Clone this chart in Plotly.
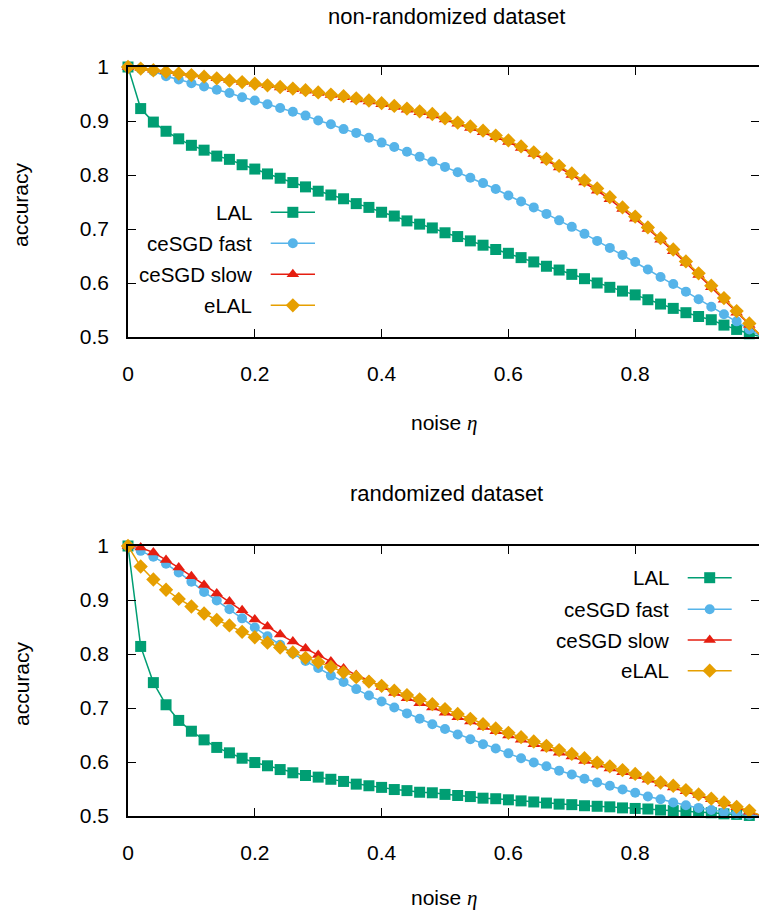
import plotly.graph_objects as go

# noise levels (x) shared by every curve
noise = [0.00, 0.02, 0.04, 0.06, 0.08, 0.10, 0.12, 0.14, 0.16, 0.18,
         0.20, 0.22, 0.24, 0.26, 0.28, 0.30, 0.32, 0.34, 0.36, 0.38,
         0.40, 0.42, 0.44, 0.46, 0.48, 0.50, 0.52, 0.54, 0.56, 0.58,
         0.60, 0.62, 0.64, 0.66, 0.68, 0.70, 0.72, 0.74, 0.76, 0.78,
         0.80, 0.82, 0.84, 0.86, 0.88, 0.90, 0.92, 0.94, 0.96, 0.98,
         1.00]

# ---- non-randomized dataset ----
nr_lal = [1.000, 0.923, 0.898, 0.881, 0.867, 0.855, 0.846, 0.835, 0.829, 0.819,
          0.811, 0.802, 0.794, 0.786, 0.778, 0.770, 0.763, 0.756, 0.747, 0.740,
          0.731, 0.724, 0.715, 0.709, 0.702, 0.693, 0.686, 0.678, 0.670, 0.662,
          0.655, 0.647, 0.639, 0.631, 0.624, 0.616, 0.608, 0.600, 0.592, 0.585,
          0.578, 0.569, 0.561, 0.553, 0.545, 0.538, 0.532, 0.522, 0.514, 0.506,
          0.500]
nr_fast = [1.000, 0.997, 0.992, 0.983, 0.977, 0.970, 0.964, 0.958, 0.952, 0.944,
           0.938, 0.931, 0.924, 0.917, 0.910, 0.901, 0.894, 0.885, 0.878, 0.869,
           0.860, 0.852, 0.843, 0.834, 0.825, 0.815, 0.805, 0.795, 0.785, 0.774,
           0.762, 0.751, 0.740, 0.728, 0.716, 0.704, 0.691, 0.678, 0.665, 0.652,
           0.639, 0.625, 0.611, 0.598, 0.584, 0.570, 0.556, 0.542, 0.529, 0.514,
           0.500]
nr_slow = [1.000, 0.998, 0.995, 0.992, 0.989, 0.986, 0.983, 0.979, 0.976, 0.972,
           0.969, 0.966, 0.962, 0.959, 0.956, 0.952, 0.948, 0.944, 0.940, 0.936,
           0.931, 0.926, 0.921, 0.916, 0.910, 0.903, 0.895, 0.887, 0.879, 0.870,
           0.861, 0.850, 0.839, 0.827, 0.814, 0.800, 0.786, 0.771, 0.755, 0.737,
           0.719, 0.700, 0.680, 0.659, 0.637, 0.615, 0.592, 0.569, 0.545, 0.522,
           0.500]
nr_elal = [1.000, 0.997, 0.994, 0.991, 0.988, 0.985, 0.982, 0.979, 0.975, 0.972,
           0.969, 0.966, 0.963, 0.960, 0.957, 0.953, 0.949, 0.946, 0.942, 0.938,
           0.933, 0.928, 0.923, 0.918, 0.913, 0.905, 0.897, 0.890, 0.882, 0.873,
           0.864, 0.853, 0.842, 0.830, 0.817, 0.803, 0.790, 0.775, 0.759, 0.740,
           0.723, 0.703, 0.683, 0.662, 0.640, 0.618, 0.595, 0.572, 0.548, 0.525,
           0.500]

# ---- randomized dataset ----
r_lal = [1.000, 0.814, 0.747, 0.706, 0.677, 0.657, 0.641, 0.627, 0.617, 0.607,
         0.599, 0.593, 0.586, 0.580, 0.575, 0.572, 0.568, 0.564, 0.559, 0.556,
         0.553, 0.549, 0.547, 0.544, 0.543, 0.540, 0.538, 0.536, 0.533, 0.532,
         0.530, 0.528, 0.526, 0.524, 0.522, 0.521, 0.519, 0.518, 0.517, 0.515,
         0.514, 0.513, 0.511, 0.510, 0.509, 0.507, 0.506, 0.504, 0.503, 0.501,
         0.500]
r_fast = [1.000, 0.991, 0.980, 0.967, 0.951, 0.934, 0.915, 0.899, 0.883, 0.866,
          0.849, 0.833, 0.817, 0.801, 0.787, 0.774, 0.760, 0.748, 0.735, 0.723,
          0.712, 0.701, 0.690, 0.680, 0.670, 0.661, 0.651, 0.642, 0.633, 0.625,
          0.616, 0.607, 0.599, 0.592, 0.584, 0.577, 0.569, 0.562, 0.556, 0.549,
          0.543, 0.536, 0.531, 0.525, 0.520, 0.515, 0.511, 0.507, 0.504, 0.502,
          0.500]
r_slow = [1.000, 0.997, 0.988, 0.974, 0.960, 0.944, 0.928, 0.912, 0.897, 0.881,
          0.864, 0.851, 0.836, 0.823, 0.810, 0.798, 0.786, 0.773, 0.761, 0.751,
          0.739, 0.728, 0.718, 0.709, 0.701, 0.691, 0.683, 0.675, 0.665, 0.657,
          0.649, 0.641, 0.633, 0.625, 0.617, 0.610, 0.602, 0.595, 0.588, 0.581,
          0.574, 0.567, 0.560, 0.553, 0.546, 0.539, 0.531, 0.523, 0.516, 0.508,
          0.500]
r_elal = [1.000, 0.962, 0.938, 0.919, 0.902, 0.888, 0.875, 0.863, 0.853, 0.841,
          0.831, 0.821, 0.812, 0.803, 0.793, 0.785, 0.776, 0.766, 0.757, 0.749,
          0.741, 0.732, 0.724, 0.716, 0.707, 0.698, 0.689, 0.680, 0.670, 0.662,
          0.654, 0.646, 0.638, 0.630, 0.622, 0.615, 0.607, 0.599, 0.592, 0.585,
          0.578, 0.570, 0.562, 0.556, 0.548, 0.540, 0.532, 0.525, 0.517, 0.510,
          0.500]

series_names = ["LAL", "ceSGD fast", "ceSGD slow", "eLAL"]
x_ticks = [0, 0.2, 0.4, 0.6, 0.8]
x_ticktext = ["0", "0.2", "0.4", "0.6", "0.8"]
y_ticks = [0.5, 0.6, 0.7, 0.8, 0.9, 1.0]
y_ticktext = ["0.5", "0.6", "0.7", "0.8", "0.9", "1"]
panel_titles = ["non-randomized dataset", "randomized dataset"]
x_title = "noise <span style='font-family:Liberation Serif;font-style:italic'>η</span>"
y_title = "accuracy"

# gnuplot-like styles per series
colors = ["#009e73", "#56b4e9", "#e51e10", "#e69f00"]
symbols = ["square", "circle", "triangle-up", "diamond"]
sizes = [11, 10, 11, 11]

FONT = "Liberation Sans, Arial, Helvetica, sans-serif"
FS_TICK = 21
FS_KEY = 20.5
FS_TITLE = 22
FS_LABEL = 21
W, H = 759, 912
ML = 128


def fx(px):
    """pixel column -> paper x"""
    return (px - ML) / (W - ML)


def fy(py):
    """pixel row -> paper y"""
    return 1 - py / H


# plot frames (pixel rows)
panels = [
    dict(top=67, bot=337, title_row=17, xlabel_row=423,
         data=[nr_lal, nr_fast, nr_slow, nr_elal]),
    dict(top=546, bot=816, title_row=494, xlabel_row=898,
         data=[r_lal, r_fast, r_slow, r_elal]),
]
x_max = (W - ML) / 634.0

fig = go.Figure()

for i, p in enumerate(panels):
    xa = "x" if i == 0 else "x2"
    ya = "y" if i == 0 else "y2"
    for k, vals in enumerate(p["data"]):
        fig.add_trace(go.Scatter(
            x=noise, y=vals, xaxis=xa, yaxis=ya, mode="lines+markers",
            line=dict(color=colors[k], width=1.5),
            marker=dict(symbol=symbols[k], size=sizes[k], color=colors[k],
                        line=dict(width=0)),
            cliponaxis=False, showlegend=False, name=series_names[k],
        ))

    common_x = dict(range=[0, x_max], domain=[0, 1], tickvals=x_ticks,
                    ticktext=x_ticktext, ticks="inside", ticklen=8,
                    tickwidth=1, tickcolor="black", showline=True,
                    linecolor="black", linewidth=1.5, mirror="ticks",
                    showgrid=False, zeroline=False, ticklabelstandoff=17,
                    tickfont=dict(family=FONT, size=FS_TICK, color="black"),
                    automargin=False)
    common_y = dict(range=[0.5, 1.0], domain=[fy(p["bot"]), fy(p["top"])],
                    tickvals=y_ticks, ticktext=y_ticktext, ticks="inside",
                    ticklen=8, tickwidth=1, tickcolor="black", showline=True,
                    linecolor="black", linewidth=1.5, mirror="ticks",
                    showgrid=False, zeroline=False, ticklabelstandoff=13,
                    tickfont=dict(family=FONT, size=FS_TICK, color="black"),
                    automargin=False)
    if i == 0:
        fig.update_layout(xaxis=dict(anchor="y", **common_x),
                          yaxis=dict(anchor="x", **common_y))
    else:
        fig.update_layout(xaxis2=dict(anchor="y2", **common_x),
                          yaxis2=dict(anchor="x2", **common_y))

# key placement (pixel positions) for each panel
keys = [
    dict(rows=[212.3, 243.3, 274.3, 305.3], text_right=254, x0=270.7, x1=315),
    dict(rows=[577.7, 609.3, 640.0, 670.7], text_right=671, x0=687.7, x1=731.7),
]

annotations = []
for key in keys:
    for k, row in enumerate(key["rows"]):
        xs = [fx(key["x0"]), fx(key["x1"])]
        fig.add_trace(go.Scatter(
            x=xs, y=[fy(row), fy(row)], xaxis="x3", yaxis="y3", mode="lines",
            line=dict(color=colors[k], width=1.5), showlegend=False,
            cliponaxis=False, hoverinfo="skip"))
        fig.add_trace(go.Scatter(
            x=[(xs[0] + xs[1]) / 2], y=[fy(row)], xaxis="x3", yaxis="y3",
            mode="markers",
            marker=dict(symbol=symbols[k], size=sizes[k], color=colors[k],
                        line=dict(width=0)),
            showlegend=False, cliponaxis=False, hoverinfo="skip"))
        annotations.append(dict(
            text=series_names[k], x=fx(key["text_right"]), y=fy(row),
            xref="paper", yref="paper", xanchor="right", yanchor="middle",
            showarrow=False,
            font=dict(family=FONT, size=FS_KEY, color="black")))

# panel titles and axis titles
for i, p in enumerate(panels):
    annotations.append(dict(
        text=panel_titles[i], x=fx(446), y=fy(p["title_row"]), xref="paper",
        yref="paper", xanchor="center", yanchor="middle", showarrow=False,
        font=dict(family=FONT, size=FS_TITLE, color="black")))
    annotations.append(dict(
        text=x_title, x=fx(444), y=fy(p["xlabel_row"]), xref="paper",
        yref="paper", xanchor="center", yanchor="middle", showarrow=False,
        font=dict(family=FONT, size=FS_LABEL, color="black")))
    annotations.append(dict(
        text=y_title, x=fx(21), y=fy((p["top"] + p["bot"]) / 2 + 3),
        xref="paper", yref="paper", xanchor="center", yanchor="middle",
        textangle=-90, showarrow=False,
        font=dict(family=FONT, size=FS_LABEL, color="black")))

fig.update_layout(
    width=W, height=H,
    margin=dict(l=ML, r=0, t=0, b=0, pad=0),
    paper_bgcolor="white", plot_bgcolor="rgba(0,0,0,0)",
    xaxis3=dict(domain=[0, 1], range=[0, 1], anchor="y3", visible=False,
                fixedrange=True),
    yaxis3=dict(domain=[0, 1], range=[0, 1], anchor="x3", visible=False,
                fixedrange=True),
    annotations=annotations,
    showlegend=False,
    hovermode=False,
)

fig.write_html("out.html")
